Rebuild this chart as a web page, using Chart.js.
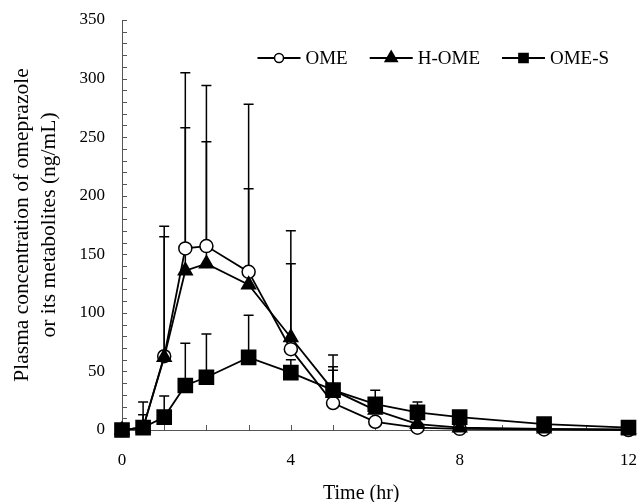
<!DOCTYPE html>
<html>
<head>
<meta charset="utf-8">
<script src="https://cdn.jsdelivr.net/npm/chart.js@4.4.0/dist/chart.umd.min.js"></script>
<style>
  body { margin: 0; background: #fff; }
  #wrap { width: 640px; height: 502px; }
</style>
</head>
<body>
<div id="wrap"><canvas id="myChart"></canvas></div>
<script>
// sampling times (hr)
const times = [0, 0.5, 1, 1.5, 2, 3, 4, 5, 6, 7, 8, 10, 12];

// mean plasma concentrations (ng/mL)
const omeMean  = [0, 2, 63, 155, 157, 135, 69, 23, 7, 2, 1, 0.5, 0];
const homeMean = [0, 2, 62, 136, 142, 124, 79, 34, 17, 5, 2, 1, 0.5];
const omesMean = [0, 2, 11, 38, 45, 62, 49, 34, 22, 15, 11, 5, 2];

// upper error (SD)
const omeSd  = [0, 22, 111, 150, 137, 143, 101, 31, 0, 0, 0, 0, 0];
const homeSd = [0, 11, 103, 122, 104, 82, 63, 30, 0, 0, 0, 0, 0];
const omesSd = [0, 0, 18, 36, 37, 36, 11, 17, 12, 9, 0, 0, 0];

const yTickLabels = [0, 50, 100, 150, 200, 250, 300, 350];
const xTickLabels = [0, 4, 8, 12];
const xTitle = 'Time (hr)';

const serif = "'Liberation Serif', 'DejaVu Serif', serif";

function pts(arr) {
    return times.map((t, i) => ({x: t, y: arr[i]}));
}

// vertical error bars (upper half only)
const errorBars = {
    id: 'errorBars',
    beforeDatasetsDraw(chart) {
        const ctx = chart.ctx, xs = chart.scales.x, ys = chart.scales.y;
        ctx.save();
        ctx.strokeStyle = '#000';
        ctx.lineWidth = 1.5;
        chart.data.datasets.forEach(ds => {
            ds.sd.forEach((sd, i) => {
                if (!sd) return;
                const x = xs.getPixelForValue(times[i]);
                const y0 = ys.getPixelForValue(ds.mean[i]);
                const y1 = ys.getPixelForValue(ds.mean[i] + sd);
                ctx.beginPath();
                ctx.moveTo(x, y0); ctx.lineTo(x, y1);
                ctx.moveTo(x - 5, y1); ctx.lineTo(x + 5, y1);
                ctx.stroke();
            });
        });
        ctx.restore();
    }
};

// short ticks pointing into the plot
const innerTicks = {
    id: 'innerTicks',
    beforeDatasetsDraw(chart) {
        const ctx = chart.ctx, xs = chart.scales.x, ys = chart.scales.y;
        const a = chart.chartArea;
        ctx.save();
        ctx.strokeStyle = '#555';
        ctx.lineWidth = 1;
        ctx.beginPath();
        ys.ticks.forEach(t => {
            const y = Math.round(ys.getPixelForValue(t.value)) + 0.5;
            ctx.moveTo(a.left, y); ctx.lineTo(a.left + 5, y);
        });
        xs.ticks.forEach(t => {
            const x = Math.round(xs.getPixelForValue(t.value)) + 0.5;
            ctx.moveTo(x, a.bottom); ctx.lineTo(x, a.bottom - 5);
        });
        ctx.stroke();
        ctx.restore();
    }
};

// x axis title, sits a little left of centre and low, as in the figure
const xAxisTitle = {
    id: 'xAxisTitle',
    afterDraw(chart) {
        const ctx = chart.ctx, a = chart.chartArea;
        ctx.save();
        ctx.font = '20px ' + serif;
        ctx.fillStyle = '#000';
        ctx.textAlign = 'center';
        ctx.textBaseline = 'middle';
        ctx.fillText(xTitle, (a.left + a.right) / 2 - 14, a.bottom + 64);
        ctx.restore();
    }
};

// legend inside the plot, line through marker
const lineLegend = {
    id: 'lineLegend',
    afterDraw(chart) {
        const ctx = chart.ctx, a = chart.chartArea;
        const y = a.top + 38;
        let x = a.right - 371;
        ctx.save();
        ctx.font = '19px ' + serif;
        ctx.textBaseline = 'middle';
        chart.data.datasets.forEach(ds => {
            ctx.strokeStyle = '#000';
            ctx.lineWidth = 1.8;
            ctx.beginPath();
            ctx.moveTo(x, y); ctx.lineTo(x + 43, y);
            ctx.stroke();
            ctx.fillStyle = ds.pointBackgroundColor;
            ctx.lineWidth = 1.5;
            Chart.helpers.drawPoint(ctx, {
                pointStyle: ds.pointStyle,
                radius: ds.legendRadius,
                borderWidth: 1.5
            }, x + 21.5, y);
            ctx.fillStyle = '#000';
            ctx.fillText(ds.label, x + 48, y + 1);
            x += 48 + ctx.measureText(ds.label).width + 22;
        });
        ctx.restore();
    }
};

const chart = document.querySelector('#myChart').getContext('2d');

const common = {
    borderColor: '#000',
    borderWidth: 1.8,
    pointBorderColor: '#000',
    pointBorderWidth: 1.5,
    tension: 0,
    clip: false
};

new Chart(chart, {
    type: 'line',
    data: {
        datasets: [
            Object.assign({}, common, {
                label: 'OME', data: pts(omeMean), mean: omeMean, sd: omeSd,
                pointStyle: 'circle', pointRadius: 6.5, legendRadius: 4.5,
                pointBackgroundColor: '#fff', order: 2
            }),
            Object.assign({}, common, {
                label: 'H-OME', data: pts(homeMean), mean: homeMean, sd: homeSd,
                pointStyle: 'triangle', pointRadius: 8, legendRadius: 7,
                pointBackgroundColor: '#000', order: 1
            }),
            Object.assign({}, common, {
                label: 'OME-S', data: pts(omesMean), mean: omesMean, sd: omesSd,
                pointStyle: 'rect', pointRadius: 10, legendRadius: 6.5,
                pointBackgroundColor: '#000', order: 0
            })
        ]
    },
    options: {
        responsive: true,
        maintainAspectRatio: false,
        animation: false,
        layout: { padding: { top: 20, right: 11, left: 6, bottom: 0 } },
        plugins: {
            legend: { display: false },
            tooltip: { enabled: false }
        },
        scales: {
            x: {
                type: 'linear', min: 0, max: 12,
                grid: { drawOnChartArea: false, drawTicks: false },
                border: { display: true, color: '#555', width: 1 },
                ticks: {
                    stepSize: 1, color: '#000', padding: 20, maxRotation: 0,
                    autoSkip: false,
                    font: { family: serif, size: 17 },
                    callback: v => xTickLabels.includes(v) ? String(v) : ''
                },
                title: { display: false },
                afterFit: s => { s.height = 72; s.paddingLeft = 0; s.paddingRight = 0; }
            },
            y: {
                min: 0, max: 350,
                grid: { drawOnChartArea: false, drawTicks: false },
                border: { display: true, color: '#555', width: 1 },
                ticks: {
                    stepSize: 10, color: '#000', padding: 17, autoSkip: false,
                    font: { family: serif, size: 17 },
                    callback: v => yTickLabels.includes(v) ? String(v) : ''
                },
                title: {
                    display: true,
                    text: ['Plasma concentration of omeprazole', 'or its metabolites (ng/mL)'],
                    color: '#000',
                    font: { family: serif, size: 21.5, lineHeight: 1.25 },
                    padding: { top: 3, bottom: 0 }
                },
                afterFit: s => { s.width = 116; s.paddingTop = 0; s.paddingBottom = 0; }
            }
        }
    },
    plugins: [errorBars, innerTicks, xAxisTitle, lineLegend]
});
</script>
</body>
</html>
